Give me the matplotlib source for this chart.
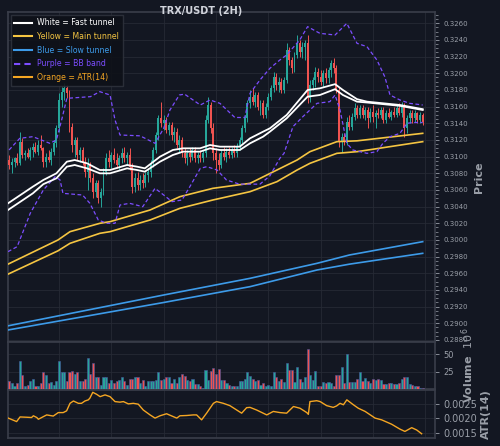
import numpy as np
import matplotlib
matplotlib.use("Agg")
import matplotlib.pyplot as plt
from matplotlib.ticker import MultipleLocator, AutoMinorLocator, FormatStrFormatter
from matplotlib.lines import Line2D

# candles (price in units of 0.0001 USDT)
opens = [
    3092, 3096, 3090, 3094, 3098, 3092, 3118, 3102, 3104, 3100,
    3108, 3112, 3106, 3114, 3110, 3094, 3100, 3096, 3106, 3116,
    3134, 3168, 3178, 3182, 3176, 3136, 3114, 3120, 3102, 3108,
    3094, 3082, 3090, 3074, 3058, 3068, 3050, 3058, 3082, 3098,
    3094, 3102, 3096, 3090, 3098, 3104, 3098, 3102, 3088, 3064,
    3074, 3066, 3072, 3068, 3078, 3082, 3092, 3108, 3126, 3146,
    3140, 3144, 3132, 3138, 3126, 3130, 3114, 3120, 3104, 3098,
    3104, 3100, 3108, 3098, 3102, 3098, 3104, 3144, 3162, 3134,
    3104, 3096, 3090, 3104, 3100, 3106, 3102, 3108, 3104, 3112,
    3120, 3134, 3146, 3164, 3172, 3166, 3174, 3160, 3164, 3150,
    3160, 3172, 3182, 3196, 3186, 3190, 3180, 3192, 3228, 3216,
    3206, 3222, 3236, 3226, 3232, 3236, 3170, 3186, 3192, 3202,
    3196, 3190, 3200, 3194, 3204, 3212, 3206, 3180, 3118, 3124,
    3118, 3142, 3136, 3148, 3158, 3150, 3158, 3150, 3156, 3146,
    3154, 3148, 3152, 3150, 3156, 3144, 3152, 3148, 3154, 3150,
    3158, 3152, 3160, 3134, 3146, 3152, 3146, 3152, 3144, 3150,
]
highs = [
    3100, 3102, 3098, 3100, 3104, 3130, 3122, 3108, 3110, 3112,
    3116, 3118, 3120, 3126, 3112, 3104, 3108, 3110, 3120, 3138,
    3176, 3184, 3188, 3186, 3180, 3140, 3124, 3124, 3112, 3112,
    3100, 3098, 3094, 3080, 3072, 3072, 3062, 3086, 3104, 3108,
    3106, 3110, 3104, 3102, 3110, 3112, 3106, 3110, 3092, 3080,
    3082, 3078, 3080, 3082, 3086, 3096, 3112, 3130, 3150, 3166,
    3150, 3148, 3142, 3142, 3136, 3134, 3126, 3124, 3110, 3108,
    3110, 3112, 3112, 3106, 3108, 3108, 3150, 3171, 3166, 3140,
    3110, 3104, 3108, 3112, 3110, 3112, 3112, 3114, 3116, 3124,
    3138, 3150, 3168, 3180, 3182, 3178, 3178, 3168, 3168, 3164,
    3176, 3186, 3202, 3200, 3196, 3194, 3196, 3236, 3232, 3220,
    3226, 3246, 3240, 3238, 3240, 3246, 3192, 3196, 3208, 3206,
    3204, 3204, 3206, 3208, 3216, 3218, 3210, 3184, 3128, 3128,
    3148, 3150, 3152, 3164, 3162, 3162, 3162, 3160, 3160, 3158,
    3162, 3156, 3158, 3160, 3160, 3156, 3158, 3156, 3160, 3162,
    3164, 3166, 3164, 3150, 3156, 3156, 3156, 3154, 3154, 3152,
]
lows = [
    3082, 3085, 3080, 3088, 3090, 3090, 3098, 3096, 3098, 3096,
    3100, 3104, 3102, 3108, 3088, 3088, 3094, 3090, 3102, 3112,
    3130, 3160, 3168, 3170, 3130, 3106, 3100, 3096, 3094, 3090,
    3076, 3060, 3070, 3050, 3052, 3044, 3040, 3054, 3078, 3088,
    3086, 3092, 3086, 3084, 3092, 3094, 3090, 3084, 3056, 3058,
    3060, 3060, 3062, 3064, 3070, 3076, 3088, 3104, 3120, 3136,
    3132, 3128, 3126, 3120, 3118, 3110, 3106, 3100, 3092, 3090,
    3094, 3096, 3094, 3092, 3094, 3094, 3100, 3140, 3128, 3096,
    3080, 3084, 3086, 3096, 3094, 3098, 3098, 3100, 3100, 3108,
    3116, 3130, 3142, 3158, 3162, 3160, 3156, 3150, 3146, 3146,
    3156, 3168, 3178, 3180, 3178, 3176, 3176, 3188, 3210, 3200,
    3202, 3218, 3220, 3218, 3216, 3164, 3166, 3180, 3184, 3190,
    3186, 3184, 3188, 3188, 3196, 3200, 3176, 3112, 3106, 3114,
    3114, 3132, 3132, 3144, 3146, 3146, 3146, 3144, 3134, 3142,
    3142, 3134, 3146, 3146, 3140, 3140, 3146, 3144, 3148, 3148,
    3150, 3148, 3124, 3128, 3140, 3140, 3142, 3140, 3140, 3138,
]
closes = [
    3096, 3090, 3094, 3098, 3092, 3118, 3102, 3104, 3100, 3108,
    3112, 3106, 3114, 3110, 3094, 3100, 3096, 3106, 3116, 3134,
    3168, 3178, 3182, 3176, 3136, 3114, 3120, 3102, 3108, 3094,
    3082, 3090, 3074, 3058, 3068, 3050, 3058, 3082, 3098, 3094,
    3102, 3096, 3090, 3098, 3104, 3098, 3102, 3088, 3064, 3074,
    3066, 3072, 3068, 3078, 3082, 3092, 3108, 3126, 3146, 3140,
    3144, 3132, 3138, 3126, 3130, 3114, 3120, 3104, 3098, 3104,
    3100, 3108, 3098, 3102, 3098, 3104, 3144, 3162, 3134, 3104,
    3096, 3090, 3104, 3100, 3106, 3102, 3108, 3104, 3112, 3120,
    3134, 3146, 3164, 3172, 3166, 3174, 3160, 3164, 3150, 3160,
    3172, 3182, 3196, 3186, 3190, 3180, 3192, 3228, 3216, 3206,
    3222, 3236, 3226, 3232, 3236, 3170, 3186, 3192, 3202, 3196,
    3190, 3200, 3194, 3204, 3212, 3206, 3180, 3118, 3124, 3118,
    3142, 3136, 3148, 3158, 3150, 3158, 3150, 3156, 3146, 3154,
    3148, 3152, 3150, 3156, 3144, 3152, 3148, 3154, 3150, 3158,
    3152, 3160, 3134, 3146, 3152, 3146, 3152, 3144, 3150, 3142,
]
# volume in millions
volume = [
    11, 12, 9, 5, 8, 41, 20, 4, 6, 11,
    14, 5, 4, 9, 25, 20, 8, 10, 6, 11,
    41, 25, 25, 11, 25, 26, 22, 24, 11, 12,
    14, 45, 22, 38, 18, 18, 6, 18, 17, 9,
    13, 8, 11, 13, 17, 11, 6, 15, 14, 17,
    17, 8, 13, 4, 11, 11, 11, 13, 24, 13,
    15, 18, 17, 8, 15, 8, 18, 22, 19, 13,
    12, 15, 7, 7, 4, 2, 28, 13, 26, 31,
    22, 29, 13, 13, 9, 6, 5, 4, 4, 11,
    12, 14, 24, 19, 14, 12, 13, 6, 9, 4,
    6, 4, 24, 18, 12, 15, 10, 37, 27, 27,
    10, 32, 14, 10, 17, 58, 20, 13, 26, 5,
    4, 10, 9, 10, 9, 4, 20, 20, 32, 9,
    50, 10, 10, 10, 14, 25, 12, 16, 12, 8,
    14, 13, 14, 13, 7, 7, 9, 9, 7, 7,
    9, 15, 17, 17, 7, 6, 4, 4, 2, 1,
]

# overlay lines, sampled at candle positions
bb_up_x = [0.9, 5, 10, 16.5, 19, 21, 23, 32, 35.6, 39.5, 41.4, 43.3, 51, 56.7, 60,
           62.4, 66, 68, 74, 77.7, 81.5, 87.2, 91, 93, 96.8, 100.6, 104.4, 107, 112,
           115, 119.7, 125.5, 130, 133.9, 137.7, 141.5, 144.5, 146.5, 150.3, 154, 159]
bb_up = [3108, 3122, 3124, 3116, 3120, 3144, 3170, 3172, 3178, 3174, 3144, 3126, 3125,
         3116, 3134, 3156, 3174, 3175, 3162, 3168, 3164, 3147, 3147, 3176, 3192, 3206,
         3216, 3222, 3240, 3256, 3248, 3246, 3260, 3236, 3232, 3216, 3196, 3174, 3168,
         3164, 3162]
bb_lo_x = [0.5, 4, 9, 14, 18.5, 20.4, 21.5, 29, 31.8, 35, 38.3, 41.4, 43.3, 47, 52,
           56.7, 60, 63.2, 67, 70, 74, 76.5, 80.4, 84, 89, 96.8, 100.6, 104.4, 106,
           109.4, 113.2, 118.6, 123.5, 125.5, 127.4, 130, 132.3, 137.7, 141.5, 143.8,
           146.5, 150.3, 153, 155.3, 159]
bb_lo = [2986, 2992, 3032, 3060, 3076, 3072, 3056, 3054, 3044, 3024, 3020, 3020, 3042,
         3044, 3040, 3062, 3054, 3046, 3048, 3064, 3086, 3088, 3084, 3072, 3067, 3067,
         3077, 3098, 3104, 3136, 3148, 3164, 3166, 3174, 3156, 3116, 3108, 3104, 3106,
         3116, 3124, 3128, 3140, 3141, 3141]

fast_x = [0.5, 10, 14, 19, 23, 26, 30.7, 35.6, 39.5, 46, 49.8, 52.8, 58.6, 63.5, 67.4,
          73.9, 77.7, 81.5, 89.1, 93, 98, 100.6, 107, 115, 119.7, 125.5, 128.5, 133.9,
          137.7, 150.3, 159]
fast_hi = [3044, 3064, 3072, 3080, 3094, 3096, 3092, 3084, 3084, 3090, 3088, 3086, 3100,
           3108, 3110, 3110, 3114, 3112, 3112, 3122, 3130, 3134, 3150, 3180, 3182, 3187,
           3180, 3169, 3166, 3162, 3157]
fast_lo = [3036, 3056, 3067, 3074, 3088, 3090, 3086, 3080, 3080, 3086, 3084, 3082, 3094,
           3102, 3106, 3106, 3110, 3108, 3108, 3116, 3124, 3130, 3146, 3172, 3174, 3181,
           3174, 3166, 3165, 3161, 3156]

main_x = [0.5, 19.6, 24.2, 35.6, 39.5, 54.8, 66.2, 78.8, 93, 103.3, 111, 115.9, 126.2, 133.9, 159]
main_hi = [2971, 3000, 3010, 3020, 3022, 3036, 3052, 3062, 3068, 3084, 3096, 3106, 3118, 3119, 3128]
main_lo = [2959, 2987, 2996, 3008, 3010, 3024, 3038, 3048, 3058, 3070, 3084, 3092, 3104, 3106, 3118]

slow_x = [0.5, 60, 93, 118.6, 131, 159]
slow_hi = [2897, 2934, 2954, 2972, 2982, 2998]
slow_lo = [2892, 2925, 2944, 2964, 2971, 2984]

atr_x = [0.6, 3.8, 5.1, 7.6, 9.5, 10.2, 11.5, 12.1, 14, 15.3, 17.8, 19.7, 21.6, 22.9,
         24.2, 25.5, 27.4, 28.6, 29.9, 31.2, 31.8, 32.9, 34.4, 35.7, 37.6, 39.5, 41.4,
         43.3, 44.6, 46.5, 48.4, 50.3, 52.2, 54.8, 56.7, 58.6, 61.1, 63.7, 65, 66.2,
         68.8, 71.3, 72.6, 74.5, 76.4, 79, 80.2, 82.8, 85.3, 87.9, 89.8, 91.7, 93,
         95.5, 99.4, 101.9, 104.5, 107, 109.6, 112.1, 114.7, 115.3, 115.9, 118.5,
         119.8, 122.3, 124.8, 126.1, 127.4, 128.7, 130, 132.5, 134.4, 137, 140.8,
         143.3, 147.1, 150.3, 152.2, 154.8, 156.7, 158.6]
atr = [0.00201, 0.00189, 0.00205, 0.00204, 0.00203, 0.00209, 0.00203, 0.00197, 0.00206,
       0.00212, 0.00208, 0.00220, 0.00220, 0.00226, 0.00252, 0.00260, 0.00252, 0.00252,
       0.00260, 0.00264, 0.00270, 0.00290, 0.00283, 0.00275, 0.00281, 0.00275, 0.00258,
       0.00256, 0.00258, 0.00250, 0.00252, 0.00249, 0.00229, 0.00212, 0.00201, 0.00209,
       0.00216, 0.00206, 0.00201, 0.00209, 0.00210, 0.00212, 0.00212, 0.00195, 0.00218,
       0.00252, 0.00258, 0.00252, 0.00244, 0.00229, 0.00218, 0.00237, 0.00238,
       0.00229, 0.00212, 0.00224, 0.00220, 0.00218, 0.00241, 0.00235, 0.00220, 0.00214,
       0.00258, 0.00261, 0.00258, 0.00244, 0.00238, 0.00243, 0.00252, 0.00247, 0.00264,
       0.00247, 0.00235, 0.00224, 0.00201, 0.00195, 0.00180, 0.00163, 0.00155, 0.00168,
       0.00160, 0.00147]

BG = "#131722"
GRID = "#262a35"
SPINE = "#3a3e4a"
TXT = "#9a9fa8"
UP, DOWN = "#26a69a", "#ef5350"
WHITE, YELLOW, BLUE, PURPLE, ORANGE = "#ffffff", "#f5c542", "#3d9be9", "#7c4dff", "#f5a623"

sc = 1e-4
o = np.array(opens) * sc
h = np.array(highs) * sc
l = np.array(lows) * sc
c = np.array(closes) * sc
x = np.arange(len(o))
cols = np.where(c >= o, UP, DOWN)

fig = plt.figure(figsize=(5, 4.46), dpi=100, facecolor=BG)
L, R = 0.016, 0.87
ax = fig.add_axes([L, 0.2332, R - L, 0.7399])
axv = fig.add_axes([L, 0.1278, R - L, 0.1054], sharex=ax)
axa = fig.add_axes([L, 0.019, R - L, 0.1066], sharex=ax)

for a in (ax, axv, axa):
    a.set_facecolor(BG)
    for s in a.spines.values():
        s.set_color(SPINE)
        s.set_linewidth(1.2)
    a.yaxis.tick_right()
    a.yaxis.set_label_position("right")
    a.tick_params(axis="y", colors=TXT, length=3, width=0.6, pad=3)
    a.tick_params(axis="x", bottom=False, labelbottom=False)
    a.xaxis.set_major_locator(MultipleLocator(20))
    a.grid(True, color=GRID, linewidth=0.6)
    a.set_axisbelow(True)

# candles
ax.vlines(x, l, h, colors=cols, linewidth=0.7, zorder=3)
body = np.where(np.abs(c - o) < 0.00002, 0.00002, c - o)
ax.bar(x, body, bottom=o, width=0.75, color=cols, linewidth=0, zorder=4)

# overlays
ax.plot(np.array(slow_x), np.array(slow_hi) * sc, color=BLUE, lw=1.2, zorder=5)
ax.plot(np.array(slow_x), np.array(slow_lo) * sc, color=BLUE, lw=1.2, zorder=5)
ax.plot(np.array(main_x), np.array(main_hi) * sc, color=YELLOW, lw=1.2, zorder=5)
ax.plot(np.array(main_x), np.array(main_lo) * sc, color=YELLOW, lw=1.2, zorder=5)
ax.plot(np.array(bb_up_x), np.array(bb_up) * sc, color=PURPLE, lw=0.9, ls=(0, (3, 2)), zorder=5)
ax.plot(np.array(bb_lo_x), np.array(bb_lo) * sc, color=PURPLE, lw=0.9, ls=(0, (3, 2)), zorder=5)
ax.plot(np.array(fast_x), np.array(fast_hi) * sc, color=WHITE, lw=1.3, zorder=6)
ax.plot(np.array(fast_x), np.array(fast_lo) * sc, color=WHITE, lw=1.3, zorder=6)

ax.set_xlim(0.5, 163.7)
ax.set_ylim(0.28776, 0.32736)
ax.yaxis.set_major_locator(MultipleLocator(0.002))
ax.yaxis.set_minor_locator(AutoMinorLocator(4))
ax.yaxis.set_major_formatter(FormatStrFormatter("%.4f"))
ax.tick_params(axis="y", which="major", labelsize=5)
ax.tick_params(axis="y", which="minor", colors=TXT, length=1.8, width=0.5)
ax.set_ylabel("Price", color=TXT, fontsize=8, fontweight="bold", labelpad=4)

handles = [Line2D([], [], color=WHITE, lw=1.5),
           Line2D([], [], color=YELLOW, lw=1.5),
           Line2D([], [], color=BLUE, lw=1.5),
           Line2D([], [], color=PURPLE, lw=1.5, ls=(0, (3, 2))),
           Line2D([], [], color=ORANGE, lw=1.5)]
labels = ["White = Fast tunnel", "Yellow = Main tunnel", "Blue = Slow tunnel",
          "Purple = BB band", "Orange = ATR(14)"]
leg = ax.legend(handles, labels, loc="upper left", bbox_to_anchor=(0.007, 0.991),
                borderaxespad=0, fontsize=5.6, handlelength=2.3, handletextpad=0.65,
                labelspacing=0.6, borderpad=0.45, facecolor="#0e1118",
                edgecolor="#2e323c", framealpha=0.9, fancybox=False)
for t, hd in zip(leg.get_texts(), handles):
    t.set_color(hd.get_color())

fig.text(0.402, 0.975, "TRX/USDT (2H)", ha="center", va="center", fontsize=7,
         fontweight="bold", color="#d1d4dc")

# volume
axv.bar(x, volume, width=0.8, color=cols, edgecolor="#4a5aa0", linewidth=0.4, zorder=3)
axv.set_ylim(0, 68)
axv.set_yticks([25, 50])
axv.tick_params(axis="y", labelsize=6)
axv.set_ylabel("Volume  $10^{6}$", color=TXT, fontsize=8, fontweight="bold", labelpad=4)

# ATR
axa.plot(np.array(atr_x), atr, color=ORANGE, lw=1.0, zorder=3)
axa.set_ylim(0.00134, 0.00298)
axa.set_yticks([0.0015, 0.0020, 0.0025])
axa.yaxis.set_major_formatter(FormatStrFormatter("%.4f"))
axa.tick_params(axis="y", labelsize=7)
axa.set_ylabel("ATR(14)", color=TXT, fontsize=8, fontweight="bold", labelpad=3)

fig.savefig("out.png", dpi=100, facecolor=BG)
